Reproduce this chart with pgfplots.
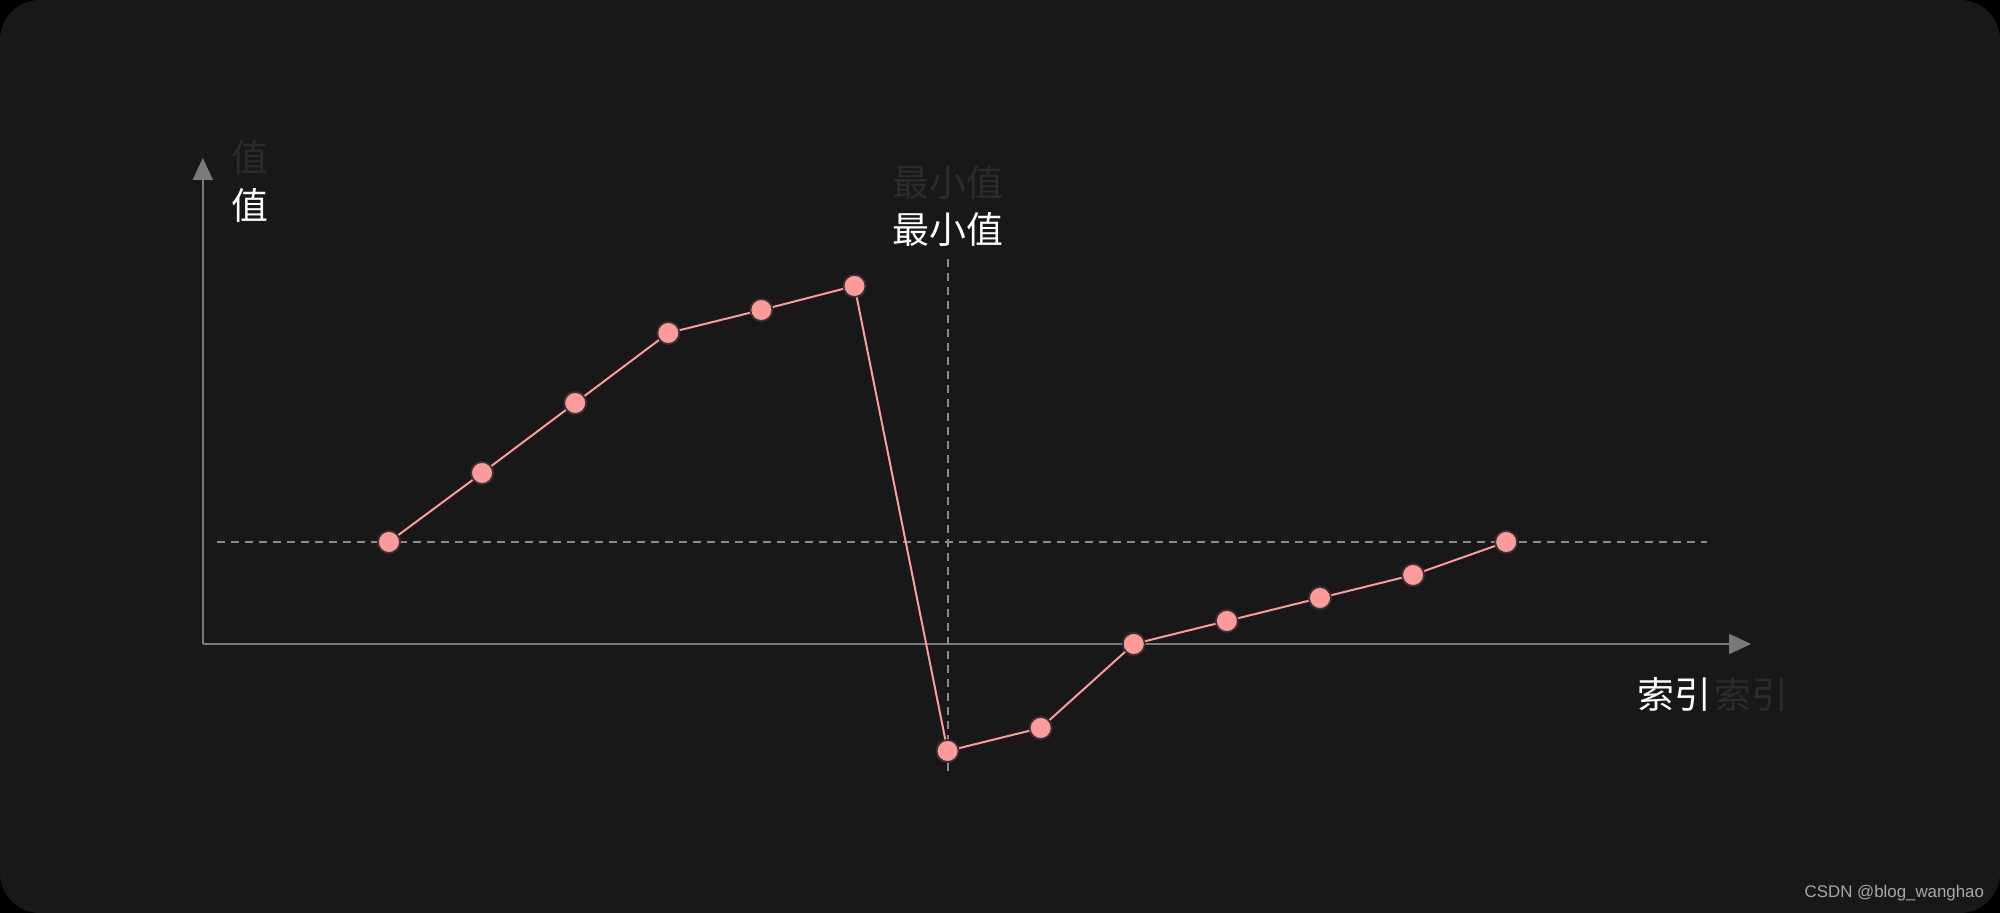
\documentclass[border=0pt]{standalone}
\usepackage{pgfplots}
\pgfplotsset{compat=1.18}
\usetikzlibrary{arrows.meta}
\usepackage{fontspec}
\setmainfont{Liberation Sans}
\newfontfamily\cjk{Noto Sans CJK SC}

\definecolor{bg}{HTML}{181818}
\definecolor{pt}{HTML}{FF9A9A}
\definecolor{ptedge}{HTML}{3A3232}
\definecolor{axgray}{HTML}{7A7A7A}
\definecolor{dashgray}{HTML}{8A8A8A}
\definecolor{faded}{HTML}{2C2C2C}
\definecolor{wm}{HTML}{A8A8A8}

\begin{document}
\begin{tikzpicture}
  \fill[black] (0,0) rectangle (20cm,9.13cm);
  \fill[bg, rounded corners=0.4cm] (0,0) rectangle (20cm,9.13cm);
  \begin{axis}[
    at={(0,0)}, anchor=south west,
    scale only axis,
    width=20cm, height=9.13cm,
    xmin=-3.178, xmax=18.304,
    ymin=-269, ymax=644,
    hide axis,
    clip=false,
  ]
  % axes with arrows
  \draw[axgray, line width=0.02cm, -{Triangle[length=0.22cm,width=0.2cm]}]
    (axis cs:-1,0) -- (axis cs:15.63,0);
  \draw[axgray, line width=0.02cm, -{Triangle[length=0.22cm,width=0.2cm]}]
    (axis cs:-1,0) -- (axis cs:-1,486);
  % guide lines
  \draw[dashgray, line width=0.02cm, dash pattern=on 0.08cm off 0.06cm]
    (axis cs:-0.85,102) -- (axis cs:15.16,102);
  \draw[dashgray, line width=0.02cm, dash pattern=on 0.08cm off 0.06cm]
    (axis cs:7,385) -- (axis cs:7,-132);

  \addplot[pt, line width=0.02cm, mark=*, mark size=0.11cm,
    mark options={fill=pt, draw=ptedge, line width=0.018cm}]
    coordinates {
    (1,102) (2,171) (3,241) (4,311) (5,334) (6,358)
    (7,-107) (8,-84) (9,0) (10,23) (11,46) (12,69) (13,102)
  };

  % labels
  \node[faded, font=\cjk\fontsize{10.5}{12}\selectfont] at (axis cs:-0.493,486) {值};
  \node[white, font=\cjk\fontsize{10.5}{12}\selectfont] at (axis cs:-0.493,438) {值};
  \node[faded, font=\cjk\fontsize{10.5}{12}\selectfont] at (axis cs:7,461) {最小值};
  \node[white, font=\cjk\fontsize{10.5}{12}\selectfont] at (axis cs:7,414) {最小值};
  \node[white, font=\cjk\fontsize{10.5}{12}\selectfont, anchor=east, inner sep=0pt] at (axis cs:15.21,-50) {索引};
  \node[faded, font=\cjk\fontsize{10.5}{12}\selectfont, anchor=west, inner sep=0pt] at (axis cs:15.23,-50) {索引};
  \node[wm, font=\fontsize{4.8}{6}\selectfont, anchor=east, inner sep=0pt] at (axis cs:18.14,-249) {CSDN @blog\_wanghao};
  \end{axis}
  \pgfresetboundingbox
  \path[use as bounding box] (0,0) rectangle (20cm,9.13cm);
\end{tikzpicture}
\end{document}
